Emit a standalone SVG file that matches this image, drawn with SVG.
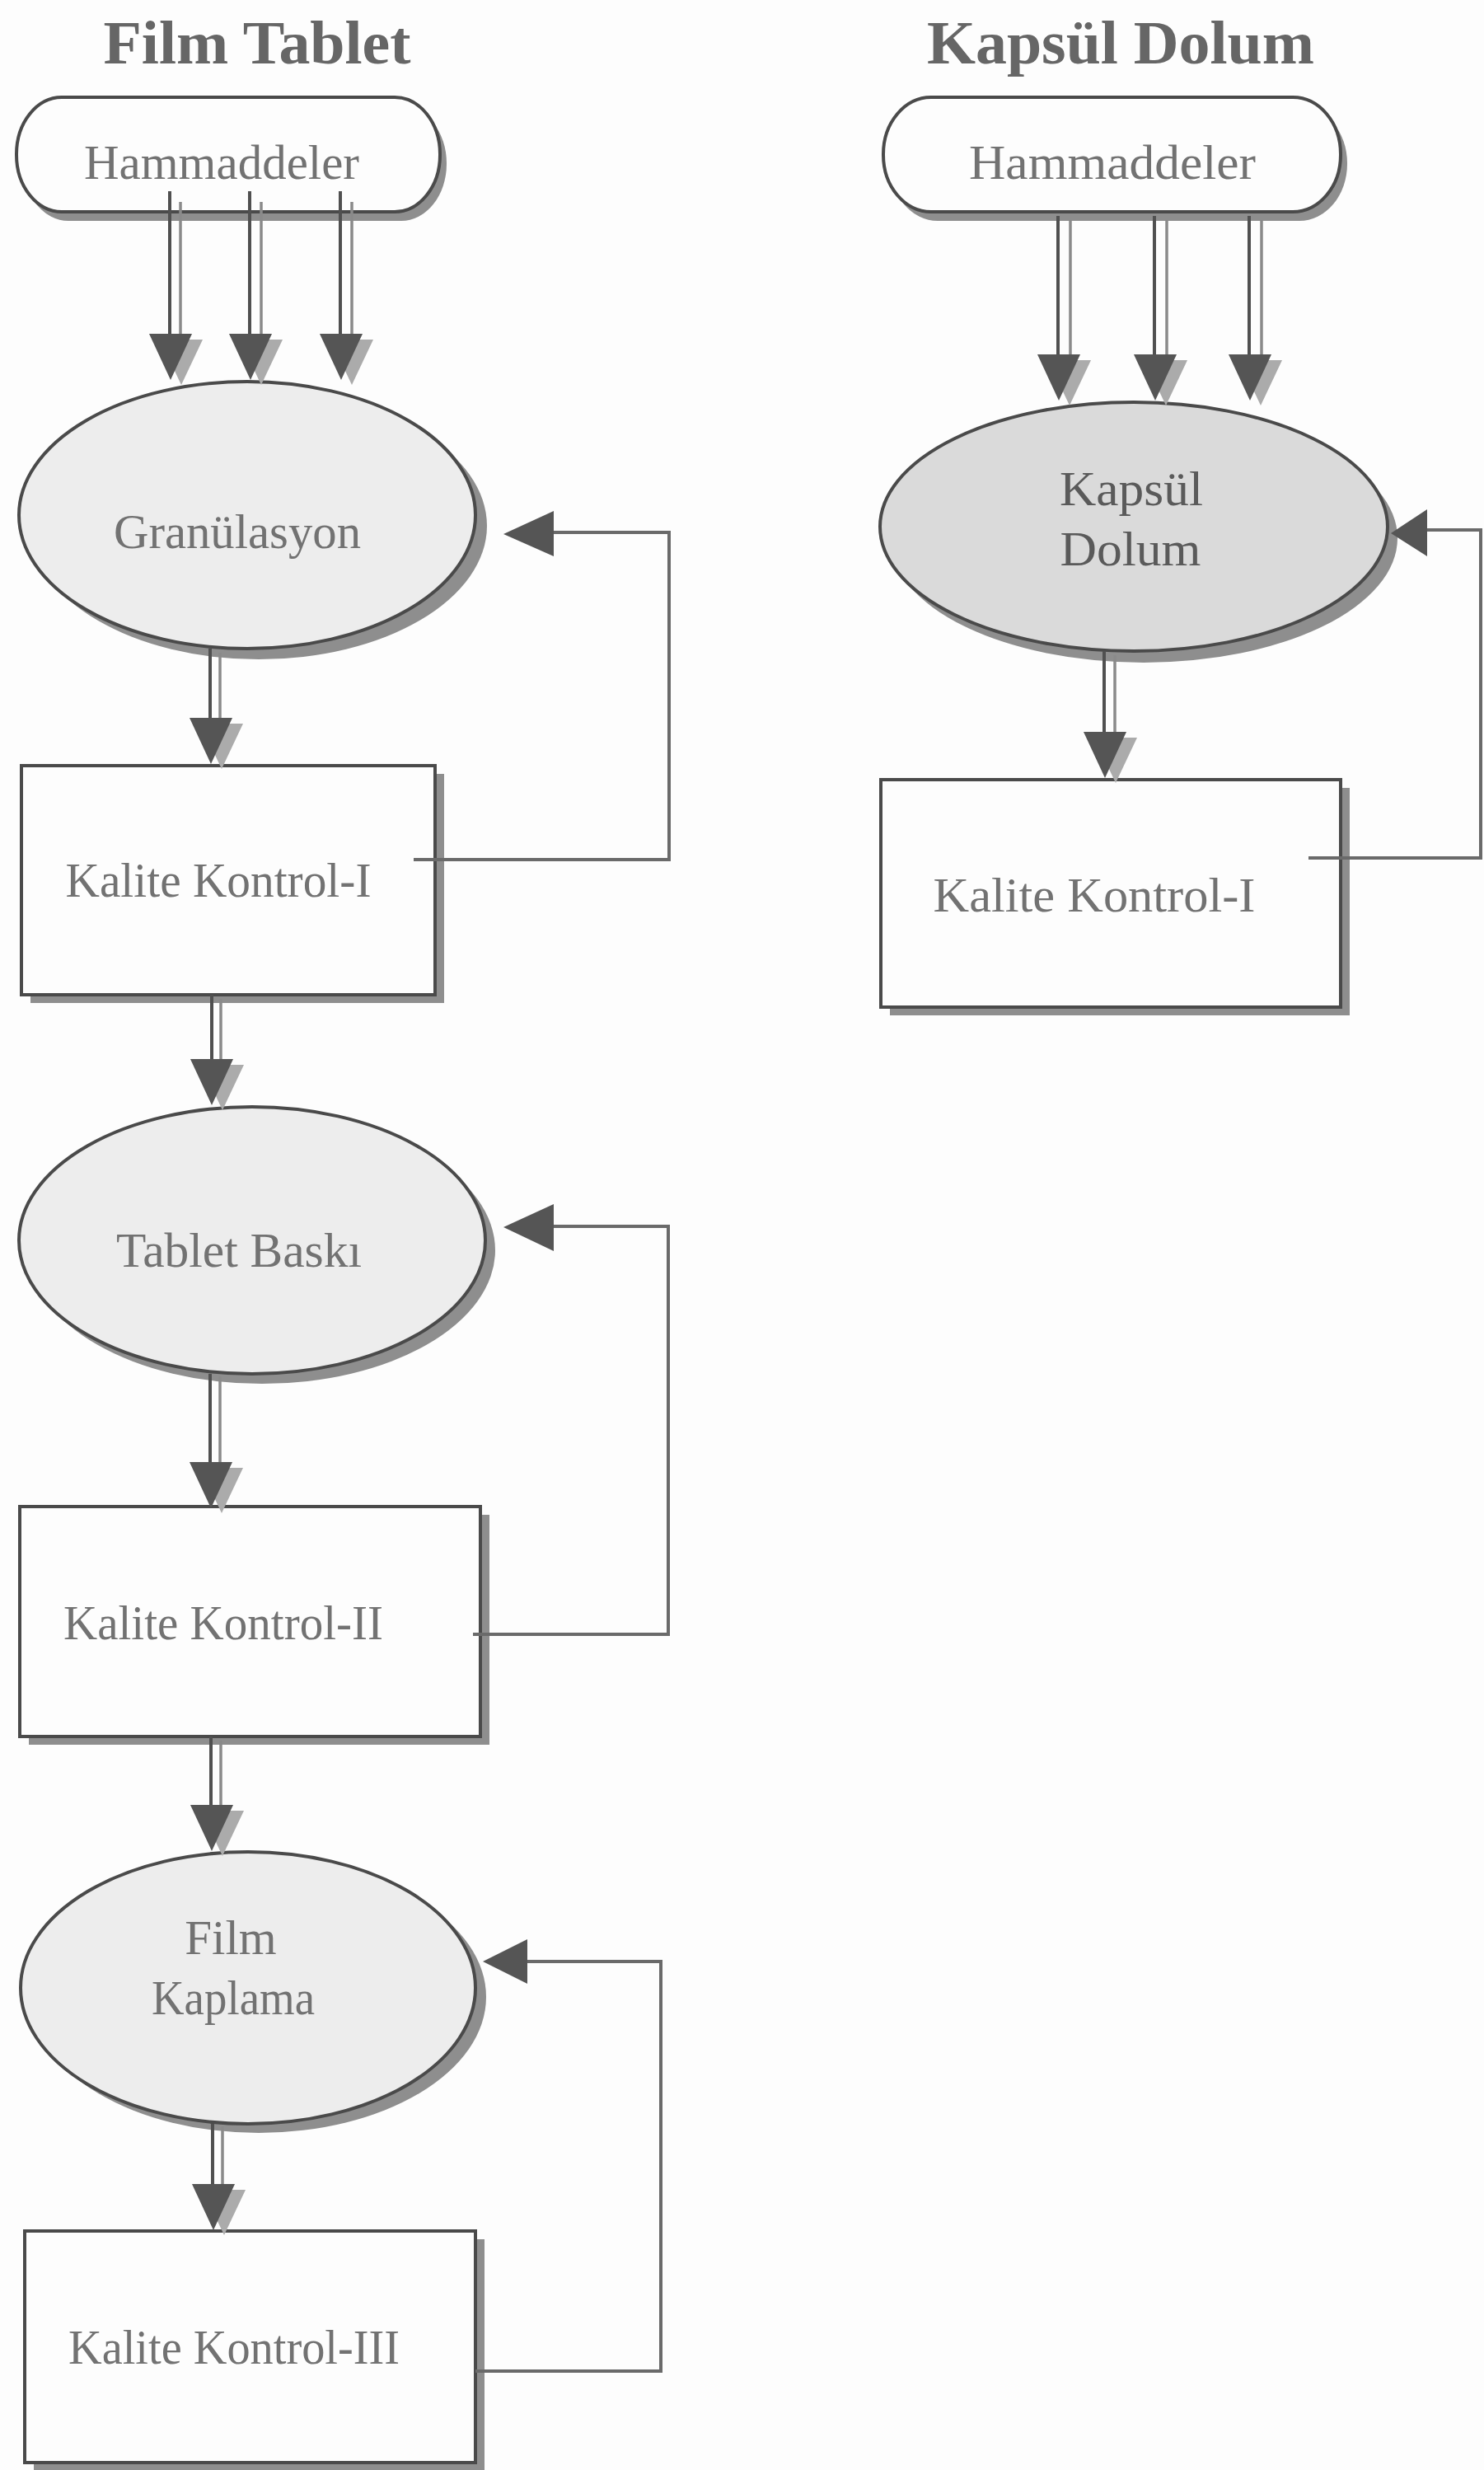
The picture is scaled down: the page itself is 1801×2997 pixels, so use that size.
<svg xmlns="http://www.w3.org/2000/svg" xmlns:xlink="http://www.w3.org/1999/xlink" width="1801" height="2997" viewBox="0 0 1801 2997">
<style>
.bg{fill:#fdfdfd}
.title{font-family:"Liberation Serif","Times New Roman",serif;font-weight:bold;font-size:75px;fill:#666666;text-anchor:middle}
.lbl{font-family:"Liberation Serif","Times New Roman",serif;font-size:59px;fill:#727272;text-anchor:middle}
.lbl2{font-family:"Liberation Serif","Times New Roman",serif;font-size:60px;fill:#5a5a5a;text-anchor:middle}
.shape{stroke:#4a4a4a;stroke-width:4}
.box{fill:#fdfdfd}
.ell{fill:#ededed}
.ell2{fill:#dadada}
.shadow{fill:#8e8e8e}
.main{stroke:#505050;stroke-width:4;fill:none}
.sh{stroke:#8a8a8a;stroke-width:3.5;fill:none}
.fb{stroke:#6a6a6a;stroke-width:4;fill:none}
.ah{fill:#555555}
.ahs{fill:#ababab}
</style>
<defs>
<g id="arrowDown">
<polygon class="ahs" points="-13,-49 39,-49 13,6"/>
<polygon class="ah" points="-26,-56 26,-56 0,0"/>
</g>
</defs>
<rect class="bg" x="0" y="0" width="1801" height="2997"/>

<text class="title" x="312" y="77" textLength="373" lengthAdjust="spacingAndGlyphs">Film Tablet</text>
<text class="title" x="1360" y="77" textLength="470" lengthAdjust="spacingAndGlyphs">Kapsül Dolum</text>

<g id="hammaddeler-left">
<rect class="shadow" x="28" y="129" width="514" height="139" rx="55" ry="69"/>
<rect class="shape box" x="20" y="118" width="514" height="139" rx="55" ry="69"/>
<text class="lbl" x="269" y="217" textLength="334" lengthAdjust="spacingAndGlyphs">Hammaddeler</text>
</g>

<g id="granulasyon">
<ellipse class="shadow" cx="314" cy="638" rx="277" ry="162"/>
<ellipse class="shape ell" cx="300" cy="625" rx="277" ry="162"/>
<text class="lbl" x="288" y="665" textLength="300" lengthAdjust="spacingAndGlyphs">Granülasyon</text>
</g>

<g id="kalite-kontrol-1">
<rect class="shadow" x="37" y="939" width="502" height="278"/>
<rect class="shape box" x="26" y="929" width="502" height="278"/>
<text class="lbl" x="265" y="1088" textLength="371" lengthAdjust="spacingAndGlyphs">Kalite Kontrol-I</text>
</g>

<g id="tablet-baski">
<ellipse class="shadow" cx="318" cy="1517" rx="283" ry="162"/>
<ellipse class="shape ell" cx="306" cy="1505" rx="283" ry="162"/>
<text class="lbl" x="290" y="1537" textLength="298" lengthAdjust="spacingAndGlyphs">Tablet Baskı</text>
</g>

<g id="kalite-kontrol-2">
<rect class="shadow" x="35" y="1838" width="559" height="279"/>
<rect class="shape box" x="24" y="1828" width="559" height="279"/>
<text class="lbl" x="271" y="1989" textLength="388" lengthAdjust="spacingAndGlyphs">Kalite Kontrol-II</text>
</g>

<g id="film-kaplama">
<ellipse class="shadow" cx="314" cy="2423" rx="276" ry="165"/>
<ellipse class="shape ell" cx="301" cy="2412" rx="276" ry="165"/>
<text class="lbl" x="280" y="2371">Film</text>
<text class="lbl" x="283" y="2444" textLength="198" lengthAdjust="spacingAndGlyphs">Kaplama</text>
</g>

<g id="kalite-kontrol-3">
<rect class="shadow" x="41" y="2717" width="547" height="281"/>
<rect class="shape box" x="30" y="2707" width="547" height="281"/>
<text class="lbl" x="284" y="2868" textLength="402" lengthAdjust="spacingAndGlyphs">Kalite Kontrol-III</text>
</g>

<g id="hammaddeler-right">
<rect class="shadow" x="1080" y="129" width="555" height="139" rx="58" ry="69"/>
<rect class="shape box" x="1072" y="118" width="555" height="139" rx="58" ry="69"/>
<text class="lbl" x="1350" y="217" textLength="348" lengthAdjust="spacingAndGlyphs">Hammaddeler</text>
</g>

<g id="kapsul-dolum">
<ellipse class="shadow" cx="1388" cy="653" rx="308" ry="151"/>
<ellipse class="shape ell2" cx="1376" cy="639" rx="308" ry="151"/>
<text class="lbl2" x="1373" y="613" textLength="174" lengthAdjust="spacingAndGlyphs">Kapsül</text>
<text class="lbl2" x="1372" y="686" textLength="171" lengthAdjust="spacingAndGlyphs">Dolum</text>
</g>

<g id="kalite-kontrol-1-right">
<rect class="shadow" x="1080" y="956" width="558" height="276"/>
<rect class="shape box" x="1069" y="946" width="558" height="276"/>
<text class="lbl" x="1328" y="1106" textLength="391" lengthAdjust="spacingAndGlyphs">Kalite Kontrol-I</text>
</g>

<g id="connectors">
<!-- left raw material arrows -->
<line class="sh" x1="219" y1="245" x2="219" y2="418"/>
<line class="main" x1="206" y1="232" x2="206" y2="407"/>
<use xlink:href="#arrowDown" x="207" y="461"/>
<line class="sh" x1="317" y1="245" x2="317" y2="418"/>
<line class="main" x1="303" y1="232" x2="303" y2="407"/>
<use xlink:href="#arrowDown" x="304" y="461"/>
<line class="sh" x1="427" y1="245" x2="427" y2="418"/>
<line class="main" x1="413" y1="232" x2="413" y2="407"/>
<use xlink:href="#arrowDown" x="414" y="461"/>

<!-- left chain -->
<line class="sh" x1="267" y1="792" x2="267" y2="878"/>
<line class="main" x1="255" y1="787" x2="255" y2="871"/>
<use xlink:href="#arrowDown" x="256" y="927"/>

<line class="sh" x1="268" y1="1212" x2="268" y2="1296"/>
<line class="main" x1="257" y1="1207" x2="257" y2="1286"/>
<use xlink:href="#arrowDown" x="257" y="1341"/>

<line class="sh" x1="267" y1="1670" x2="267" y2="1782"/>
<line class="main" x1="255" y1="1667" x2="255" y2="1775"/>
<use xlink:href="#arrowDown" x="256" y="1830"/>

<line class="sh" x1="268" y1="2112" x2="268" y2="2198"/>
<line class="main" x1="256" y1="2107" x2="256" y2="2190"/>
<use xlink:href="#arrowDown" x="257" y="2246"/>

<line class="sh" x1="270" y1="2580" x2="270" y2="2660"/>
<line class="main" x1="258" y1="2577" x2="258" y2="2651"/>
<use xlink:href="#arrowDown" x="259" y="2706"/>

<!-- left feedback loops -->
<polyline class="fb" points="502,1043 812,1043 812,646 668,646"/>
<polygon class="ah" points="611,648 672,620 672,675"/>

<polyline class="fb" points="574,1983 811,1983 811,1488 668,1488"/>
<polygon class="ah" points="611,1489 672,1461 672,1518"/>

<polyline class="fb" points="577,2877 802,2877 802,2380 636,2380"/>
<polygon class="ah" points="586,2380 640,2353 640,2407"/>

<!-- right raw material arrows -->
<line class="sh" x1="1299" y1="267" x2="1299" y2="438"/>
<line class="main" x1="1284" y1="262" x2="1284" y2="430"/>
<use xlink:href="#arrowDown" x="1285" y="486"/>
<line class="sh" x1="1416" y1="267" x2="1416" y2="438"/>
<line class="main" x1="1401" y1="262" x2="1401" y2="430"/>
<use xlink:href="#arrowDown" x="1402" y="486"/>
<line class="sh" x1="1531" y1="267" x2="1531" y2="438"/>
<line class="main" x1="1516" y1="262" x2="1516" y2="430"/>
<use xlink:href="#arrowDown" x="1517" y="486"/>

<!-- right chain -->
<line class="sh" x1="1353" y1="795" x2="1353" y2="898"/>
<line class="main" x1="1340" y1="790" x2="1340" y2="889"/>
<use xlink:href="#arrowDown" x="1341" y="944"/>

<!-- right feedback loop -->
<polyline class="fb" points="1588,1041 1797,1041 1797,643 1726,643"/>
<polygon class="ah" points="1688,647 1732,618 1732,675"/>
</g>
</svg>
